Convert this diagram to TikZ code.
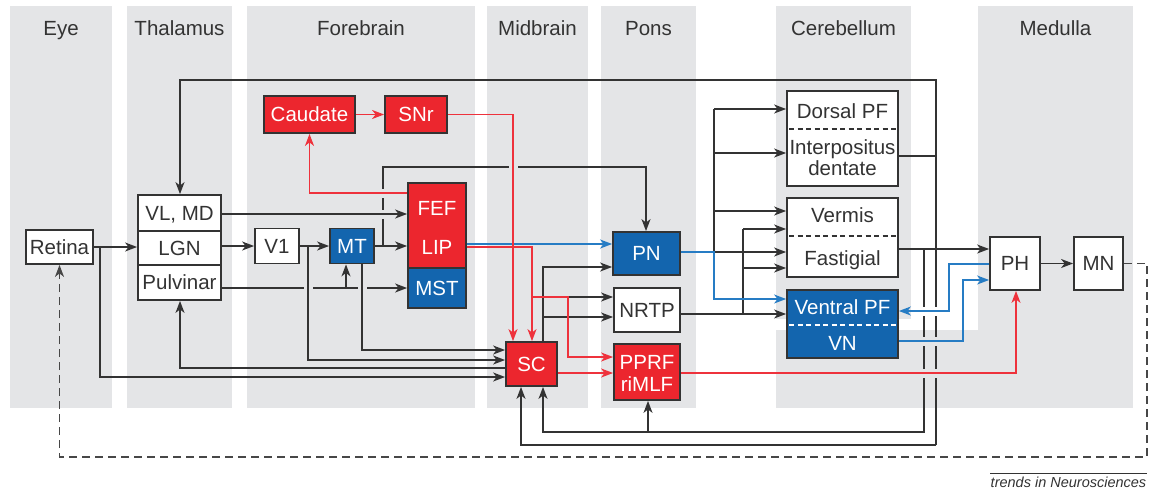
\documentclass[tikz,border=0pt]{standalone}
\usepackage{fontspec}
\setmainfont{Liberation Sans}
\usetikzlibrary{arrows.meta}

\definecolor{colbg}{RGB}{228,229,231}
\definecolor{ink}{RGB}{51,51,51}
\definecolor{boxred}{RGB}{236,38,46}
\definecolor{boxblue}{RGB}{19,101,174}
\definecolor{linered}{RGB}{238,50,60}
\definecolor{lineblue}{RGB}{38,124,196}

% gap in a vertical wire where a horizontal wire passes over it
\newcommand\wirevgap[4]{%
  \fill[#3] ({#1-2.8},{#2-4.5}) rectangle ({#1+2.8},{#2+4.5});
  \draw[#4] ({#1-3.5},#2) -- ({#1+3.5},#2);}
% gap in a horizontal wire where a vertical wire passes over it
\newcommand\wirehgap[4]{%
  \fill[#3] ({#1-4.5},{#2-2.8}) rectangle ({#1+4.5},{#2+2.8});
  \draw[#4] (#1,{#2-3.5}) -- (#1,{#2+3.5});}

\tikzset{
  column/.style={fill=colbg, draw=none},
  txt/.style={font=\fontsize{20.5}{22}\selectfont, text height=14.7pt, text depth=0pt},
  head/.style={txt, text=ink, inner sep=0},
  box/.style={txt, draw=ink, line width=1.8pt, fill=white, text=ink, inner sep=0},
  redbox/.style={box, fill=boxred, text=white},
  bluebox/.style={box, fill=boxblue, text=white},
  lbl/.style={txt, inner sep=0, text=ink},
  wlbl/.style={lbl, text=white},
  wire/.style={draw=ink, line width=1.5pt},
  arr/.style={wire, ->},
  redw/.style={draw=linered, line width=1.5pt},
  redarr/.style={redw, ->},
  bluew/.style={draw=lineblue, line width=1.5pt},
  bluearr/.style={bluew, ->},
  feedback/.style={draw=ink!90, line width=1.5pt, dash pattern=on 8pt off 5pt, ->},
  sep/.style={draw=ink, line width=1.3pt, dash pattern=on 5pt off 3.5pt},
  wsep/.style={sep, draw=white}
}

\begin{document}
\begin{tikzpicture}[x=1pt, y=-1pt, >={Stealth[length=12pt,width=9pt,inset=3.5pt]}]
\useasboundingbox (0,0) rectangle (1157,488);

% region columns
\fill[column] (10,6) rectangle (112,408);
\fill[column] (127,6) rectangle (232,408);
\fill[column] (247,6) rectangle (475,408);
\fill[column] (487,6) rectangle (588,408);
\fill[column] (601,6) rectangle (696,408);
\fill[column] (776,6) rectangle (911,319);
\fill[column] (978,6) rectangle (1133,408);
\fill[column] (776,330) rectangle (1133,408);

\node[head] (h-eye) at (61,28) {Eye};
\node[head] (h-thal) at (179.5,28) {Thalamus};
\node[head] (h-fore) at (361,28) {Forebrain};
\node[head] (h-mid) at (537.5,28) {Midbrain};
\node[head] (h-pons) at (648.5,28) {Pons};
\node[head] (h-cer) at (843.5,28) {Cerebellum};
\node[head] (h-med) at (1055.5,28) {Medulla};

% structures
\node[box, minimum width=67pt, minimum height=34pt] (retina) at (59.5,247) {Retina};
\node[box, minimum width=83pt, minimum height=36pt] (vlmd) at (179.5,213) {VL, MD};
\node[box, minimum width=83pt, minimum height=34pt] (lgn) at (179.5,248) {LGN};
\node[box, minimum width=83pt, minimum height=35pt] (pulv) at (179.5,282.5) {Pulvinar};
\node[box, minimum width=44pt, minimum height=35pt] (v1) at (277,246) {V1};
\node[bluebox, minimum width=44pt, minimum height=35pt] (mt) at (352,246) {MT};
\node[redbox, minimum width=58pt, minimum height=85pt] (fl) at (437,225.5) {};
\node[bluebox, minimum width=58pt, minimum height=40pt] (mst) at (437,288) {MST};
\node[wlbl] (fef) at (437,208) {FEF};
\node[wlbl] (lip) at (437,247) {LIP};
\node[redbox, minimum width=91pt, minimum height=37pt] (caud) at (309.5,114.5) {Caudate};
\node[redbox, minimum width=62pt, minimum height=37pt] (snr) at (416,114.5) {SNr};
\node[redbox, minimum width=51pt, minimum height=44pt] (sc) at (531.5,364) {SC};
\node[bluebox, minimum width=67pt, minimum height=43pt] (pn) at (646.5,253.5) {PN};
\node[box, minimum width=66pt, minimum height=44pt] (nrtp) at (647,310) {NRTP};
\node[redbox, minimum width=66pt, minimum height=56pt] (pprf) at (647,372) {};
\node[wlbl] (pprf-a) at (647,362) {PPRF};
\node[wlbl] (pprf-b) at (647,384) {riMLF};

\node[box, minimum width=111pt, minimum height=95pt] (dpf) at (842.5,138.5) {};
\draw[sep] (789,129) -- (896,129);
\node[lbl] (dpf-a) at (842.5,111) {Dorsal PF};
\node[lbl] (dpf-b) at (842.5,147) {Interpositus};
\node[lbl] (dpf-c) at (842.5,168) {dentate};

\node[box, minimum width=111pt, minimum height=79pt] (verm) at (842.5,237.5) {};
\draw[sep] (789,236) -- (896,236);
\node[lbl] (verm-a) at (842.5,215) {Vermis};
\node[lbl] (verm-b) at (842.5,258) {Fastigial};

\node[bluebox, minimum width=111pt, minimum height=68pt] (vpf) at (842.5,324) {};
\draw[wsep] (789,325) -- (896,325);
\node[wlbl] (vpf-a) at (842.5,307) {Ventral PF};
\node[wlbl] (vpf-b) at (842.5,343) {VN};

\node[box, minimum width=50pt, minimum height=53pt] (ph) at (1015,263.5) {PH};
\node[box, minimum width=49pt, minimum height=53pt] (mn) at (1098.5,263.5) {MN};

% feedback from motor neurons to the retina
\draw[feedback] (mn.east) -- (1147,263.5) -- (1147,457) -- (59.5,457) -- (retina.south);

% black pathways
\draw[arr] (retina.east) -- (retina.east -| lgn.west);
\draw[arr] (retina.east -| 100,0) -- (100,377) -- (sc.west |- 0,377);
\draw[arr] (lgn.east |- 0,246) -- (v1.west |- 0,246);
\draw[arr] (v1.east |- 0,246) -- (mt.west |- 0,246);
\draw[arr] (mt.east |- 0,246) -- (fl.west |- 0,246);
\draw[arr] (vlmd.east |- 0,214) -- (fl.west |- 0,214);
\draw[arr] (pulv.east |- 0,288) -- (mst.west |- 0,288);
\draw[arr] (346,288) -- (mt.south -| 346,0);
\draw[arr] (308,246) -- (308,360) -- (sc.west |- 0,360);
\draw[arr] (mt.south -| 362,0) -- (362,350) -- (sc.west |- 0,350);
\draw[arr] (383,246) -- (383,167) -- (646,167) -- (pn.north -| 646,0);
\draw[arr] (sc.west |- 0,368) -- (180,368) -- (pulv.south -| 180,0);

\draw[wire] (dpf.east |- 0,156) -- (936,156);
\draw[arr] (936,445) -- (936,80) -- (180,80) -- (vlmd.north -| 180,0);
\draw[arr] (936,445) -- (521,445) -- (sc.south -| 521,0);
\draw[arr] (verm.east |- 0,249) -- (ph.west |- 0,249);
\draw[arr] (924,249) -- (924,432) -- (543,432) -- (sc.south -| 543,0);
\draw[arr] (648,432) -- (pprf.south -| 648,0);

\draw[arr] (sc.north -| 543,0) -- (543,267) -- (pn.west |- 0,267);
\draw[arr] (543,297) -- (nrtp.west |- 0,297);
\draw[arr] (543,317) -- (nrtp.west |- 0,317);

\draw[arr] (714,252) -- (verm.west |- 0,252);
\draw[wire] (714,252) -- (714,109);
\draw[arr] (714,109) -- (dpf.west |- 0,109);
\draw[arr] (714,153) -- (dpf.west |- 0,153);
\draw[arr] (714,211) -- (verm.west |- 0,211);
\draw[arr] (nrtp.east |- 0,314) -- (vpf.west |- 0,314);
\draw[wire] (743,314) -- (743,229);
\draw[arr] (743,229) -- (verm.west |- 0,229);
\draw[arr] (743,268) -- (verm.west |- 0,268);

\draw[arr] (ph.east) -- (mn.west);

% blue pathways
\draw[bluearr] (fl.east |- 0,244) -- (pn.west |- 0,244);
\draw[bluearr] (pn.east |- 0,252) -- (714,252) -- (714,299) -- (vpf.west |- 0,299);
\draw[bluearr] (ph.west |- 0,264) -- (949,264) -- (949,311) -- (vpf.east |- 0,311);
\draw[bluearr] (vpf.east |- 0,341) -- (963,341) -- (963,280) -- (ph.west |- 0,280);

% red pathways
\draw[redarr] (fl.west |- 0,193) -- (309.5,193) -- (caud.south);
\draw[redarr] (caud.east) -- (snr.west);
\draw[redarr] (snr.east) -- (513,114.5) -- (sc.north -| 513,0);
\draw[redarr] (fl.east |- 0,247) -- (532,247) -- (sc.north -| 532,0);
\draw[redarr] (532,297) -- (568,297) -- (568,357) -- (pprf.west |- 0,357);
\draw[redarr] (sc.east |- 0,373) -- (pprf.west |- 0,373);
\draw[redarr] (pprf.east |- 0,373) -- (1016,373) -- (ph.south -| 1016,0);

% crossings
\wirevgap{383}{214}{colbg}{wire}
\wirevgap{383}{193}{colbg}{redw}
\wirehgap{308}{288}{colbg}{wire}
\wirehgap{362}{288}{colbg}{wire}
\wirehgap{513}{167}{colbg}{redw}
\wirevgap{924}{311}{white}{bluew}
\wirevgap{936}{311}{white}{bluew}
\wirevgap{924}{341}{colbg}{bluew}
\wirevgap{936}{341}{colbg}{bluew}
\wirevgap{924}{373}{colbg}{redw}
\wirevgap{936}{373}{colbg}{redw}

% source line
\draw[ink, line width=0.8pt] (990,473) -- (1147,473);
\node[text=ink, inner sep=0, font=\fontsize{14.5}{16}\selectfont\itshape] (src) at (1068.5,482) {trends in Neurosciences};
\end{tikzpicture}
\end{document}
